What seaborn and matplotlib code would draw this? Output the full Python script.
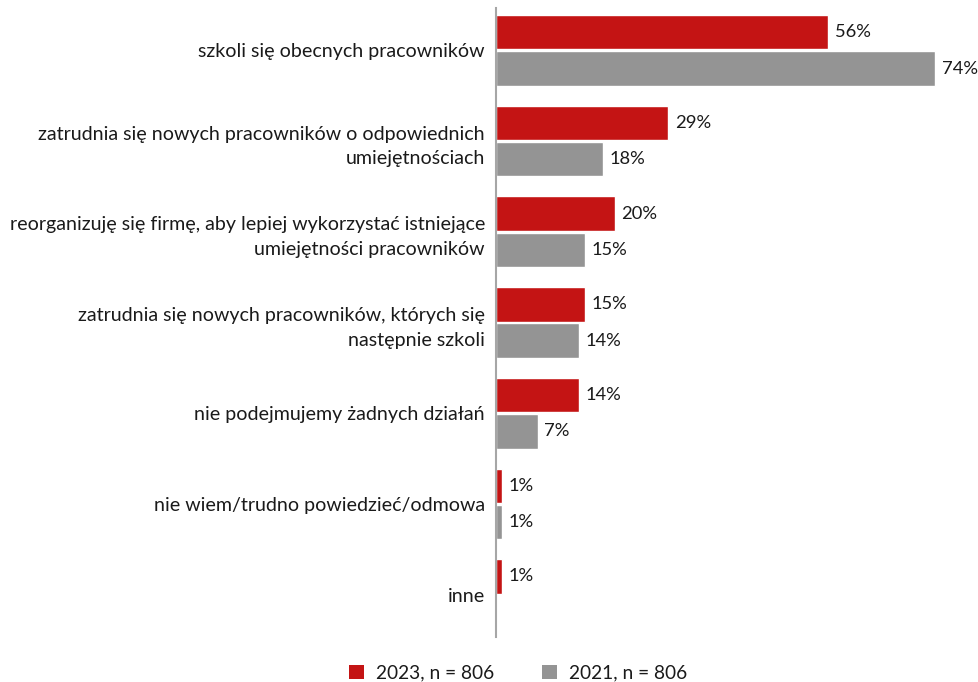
import numpy as np
import pandas as pd
import matplotlib
matplotlib.use("Agg")
import matplotlib.pyplot as plt
import seaborn as sns
from matplotlib.patches import Patch

categories = [
    "szkoli się obecnych pracowników",
    "zatrudnia się nowych pracowników o odpowiednich\numiejętnościach",
    "reorganizuję się firmę, aby lepiej wykorzystać istniejące\numiejętności pracowników",
    "zatrudnia się nowych pracowników, których się\nnastępnie szkoli",
    "nie podejmujemy żadnych działań",
    "nie wiem/trudno powiedzieć/odmowa",
    "inne",
]
values_2023 = [56, 29, 20, 15, 14, 1, 1]
values_2021 = [74, 18, 15, 14, 7, 1, np.nan]
series = ["2023, n = 806", "2021, n = 806"]
colors = ["#C41414", "#949494"]

df = pd.DataFrame({
    "kategoria": categories * 2,
    "wartosc": values_2023 + values_2021,
    "seria": [series[0]] * len(categories) + [series[1]] * len(categories),
})

sns.set_theme(style="white")
plt.rcParams["font.family"] = ["Lato", "DejaVu Sans"]

fig = plt.figure(figsize=(9.79, 6.82), dpi=100)
ax = fig.add_axes([496 / 979, 1 - 637 / 682, (959 - 496) / 979, (637 - 8) / 682])

sns.barplot(data=df, x="wartosc", y="kategoria", hue="seria", order=categories,
            hue_order=series, palette=colors, orient="h", width=0.8, gap=0.05,
            saturation=1, legend=False, ax=ax, errorbar=None)

for cont in ax.containers:
    labels = ["" if np.isnan(v) else f"{v:.0f}%" for v in cont.datavalues]
    ax.bar_label(cont, labels=labels, padding=5, fontsize=13.2, color="#1a1a1a")

ax.set_xlim(0, (959 - 496) / 5.93)
ax.set_ylim(6.467, -0.467)
ax.set_xlabel("")
ax.set_ylabel("")
ax.set_xticks([])
ax.tick_params(axis="y", length=0, pad=8, labelsize=14.1, labelcolor="#1a1a1a")
for lbl in ax.get_yticklabels():
    lbl.set_linespacing(1.55)
for side in ["top", "right", "bottom"]:
    ax.spines[side].set_visible(False)
ax.spines["left"].set_color("#A6A6A6")
ax.spines["left"].set_linewidth(1.5)

handles = [Patch(facecolor=c, edgecolor="none") for c in colors]
fig.legend(handles, series, loc="center", bbox_to_anchor=(518 / 979, 1 - 673 / 682),
           ncol=2, frameon=False, fontsize=13.8, handlelength=0.8, handleheight=0.8,
           handletextpad=0.6, columnspacing=2.5, labelcolor="#1a1a1a")

fig.savefig("out.png", dpi=100)
